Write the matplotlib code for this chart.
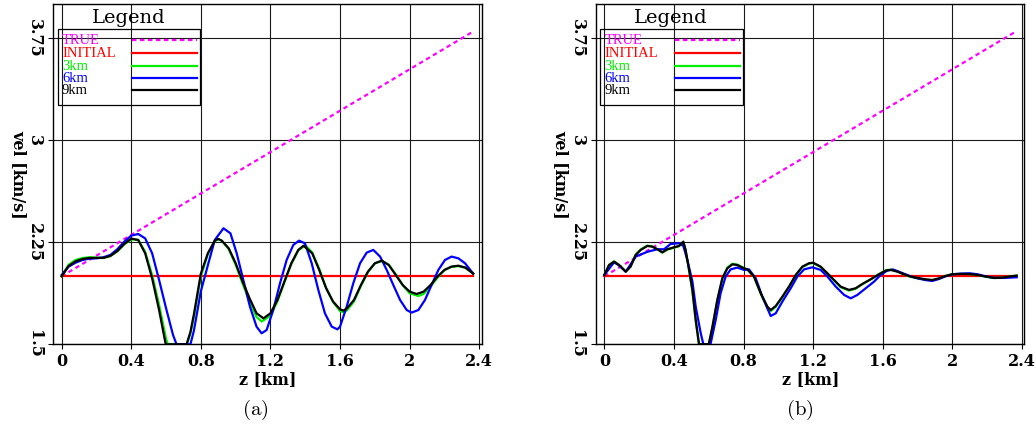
import matplotlib
matplotlib.use("Agg")
import matplotlib.pyplot as plt

plt.rcParams['mathtext.fontset'] = 'cm'

# ---------------- data ----------------
x_ticks = [0, 0.4, 0.8, 1.2, 1.6, 2.0, 2.4]
x_ticklabels = ["0", "0.4", "0.8", "1.2", "1.6", "2", "2.4"]
y_ticks = [1.5, 2.25, 3.0, 3.75]
y_ticklabels = ["1.5", "2.25", "3", "3.75"]

legend_names = ["TRUE", "INITIAL", "3km", "6km", "9km"]
legend_colors = ["#ff00ff", "#ff0000", "#00ee00", "#0000ff", "#000000"]

true_z = [0.0, 2.365]
true_v = [2.0, 3.80]
init_z = [0.0, 2.365]
init_v = [2.0, 2.0]

# panel (a)
a9_z = [0, 0.04, 0.08, 0.12, 0.16, 0.20, 0.24, 0.28, 0.32, 0.36, 0.40, 0.44, 0.48, 0.52, 0.56, 0.598,
        0.64, 0.68, 0.718, 0.74, 0.76, 0.78, 0.80, 0.84, 0.88, 0.90, 0.92, 0.96, 1.00, 1.04, 1.08, 1.12,
        1.16, 1.20, 1.24, 1.28, 1.32, 1.36, 1.39, 1.44, 1.48, 1.52, 1.56, 1.60, 1.62, 1.64, 1.68, 1.72,
        1.76, 1.80, 1.84, 1.88, 1.92, 1.96, 2.00, 2.04, 2.08, 2.12, 2.16, 2.20, 2.24, 2.28, 2.32, 2.365]
a9_v = [2.0, 2.076, 2.110, 2.127, 2.135, 2.135, 2.135, 2.150, 2.186, 2.238, 2.277, 2.267, 2.169, 1.985,
        1.752, 1.5, 1.5, 1.5, 1.5, 1.59, 1.72, 1.87, 2.02, 2.169, 2.262, 2.275, 2.262, 2.206, 2.096,
        1.961, 1.838, 1.728, 1.691, 1.728, 1.826, 1.961, 2.096, 2.194, 2.225, 2.169, 2.047, 1.912,
        1.814, 1.757, 1.748, 1.765, 1.826, 1.936, 2.034, 2.096, 2.115, 2.083, 2.01, 1.936, 1.887,
        1.87, 1.887, 1.936, 1.998, 2.047, 2.071, 2.078, 2.064, 2.02]

a3_z = [0, 0.04, 0.08, 0.12, 0.16, 0.20, 0.24, 0.28, 0.32, 0.36, 0.40, 0.44, 0.48, 0.52, 0.56, 0.60,
        0.61, 0.64, 0.68, 0.72, 0.74, 0.76, 0.78, 0.80, 0.84, 0.88, 0.90, 0.92, 0.96, 1.00, 1.04, 1.08,
        1.12, 1.15, 1.20, 1.24, 1.28, 1.32, 1.36, 1.40, 1.44, 1.48, 1.52, 1.56, 1.60, 1.62, 1.64, 1.68,
        1.72, 1.76, 1.80, 1.84, 1.88, 1.92, 1.96, 2.00, 2.05, 2.08, 2.12, 2.16, 2.20, 2.24, 2.28, 2.32,
        2.365]
a3_v = [2.0, 2.085, 2.12, 2.135, 2.14, 2.138, 2.135, 2.148, 2.183, 2.235, 2.272, 2.268, 2.18, 2.01,
        1.79, 1.54, 1.5, 1.5, 1.5, 1.5, 1.58, 1.70, 1.85, 2.0, 2.16, 2.258, 2.272, 2.262, 2.20, 2.085,
        1.945, 1.815, 1.70, 1.668, 1.71, 1.815, 1.955, 2.09, 2.19, 2.228, 2.175, 2.055, 1.915, 1.81,
        1.745, 1.735, 1.75, 1.815, 1.93, 2.03, 2.095, 2.112, 2.085, 2.015, 1.935, 1.875, 1.855, 1.87,
        1.925, 1.99, 2.045, 2.07, 2.075, 2.063, 2.02]

a6_z = [0, 0.04, 0.08, 0.12, 0.16, 0.20, 0.24, 0.28, 0.32, 0.36, 0.40, 0.44, 0.48, 0.52, 0.56, 0.60,
        0.64, 0.66, 0.74, 0.76, 0.80, 0.84, 0.88, 0.93, 0.97, 1.006, 1.044, 1.082, 1.12, 1.149, 1.178,
        1.216, 1.255, 1.293, 1.331, 1.364, 1.398, 1.437, 1.475, 1.513, 1.552, 1.585, 1.60, 1.638, 1.676,
        1.715, 1.753, 1.791, 1.83, 1.868, 1.906, 1.945, 1.983, 2.011, 2.05, 2.088, 2.126, 2.165, 2.203,
        2.241, 2.28, 2.318, 2.365]
a6_v = [2.01, 2.071, 2.10, 2.12, 2.13, 2.132, 2.14, 2.157, 2.199, 2.255, 2.299, 2.311, 2.279, 2.169,
        1.973, 1.765, 1.569, 1.5, 1.5, 1.60, 1.89, 2.08, 2.267, 2.353, 2.316, 2.169, 1.973, 1.777,
        1.63, 1.581, 1.605, 1.752, 1.949, 2.12, 2.23, 2.262, 2.243, 2.096, 1.9, 1.728, 1.63, 1.61,
        1.63, 1.777, 1.949, 2.096, 2.174, 2.194, 2.145, 2.047, 1.936, 1.826, 1.752, 1.733, 1.752,
        1.826, 1.936, 2.047, 2.12, 2.145, 2.132, 2.096, 2.02]

# panel (b)
b9_z = [0, 0.027, 0.056, 0.084, 0.123, 0.151, 0.18, 0.209, 0.247, 0.276, 0.305, 0.333, 0.362, 0.40,
        0.429, 0.454, 0.467, 0.487, 0.506, 0.525, 0.544, 0.60, 0.621, 0.649, 0.678, 0.707, 0.736, 0.764,
        0.803, 0.822, 0.86, 0.899, 0.937, 0.956, 0.985, 1.023, 1.061, 1.10, 1.138, 1.176, 1.20, 1.243,
        1.282, 1.32, 1.358, 1.406, 1.444, 1.483, 1.531, 1.578, 1.617, 1.646, 1.684, 1.722, 1.76, 1.799,
        1.846, 1.885, 1.923, 1.96, 1.999, 2.048, 2.096, 2.144, 2.192, 2.24, 2.288, 2.326, 2.37]
b9_v = [2.01, 2.083, 2.108, 2.083, 2.034, 2.071, 2.157, 2.194, 2.223, 2.218, 2.199, 2.176, 2.199, 2.213,
        2.223, 2.255, 2.194, 2.047, 1.9, 1.68, 1.5, 1.5, 1.63, 1.826, 1.985, 2.059, 2.088, 2.083,
        2.059, 2.051, 1.998, 1.875, 1.777, 1.752, 1.782, 1.85, 1.924, 2.01, 2.071, 2.096, 2.10, 2.071,
        2.022, 1.973, 1.924, 1.90, 1.912, 1.944, 1.978, 2.015, 2.042, 2.047, 2.034, 2.015, 1.998, 1.988,
        1.978, 1.973, 1.985, 2.002, 2.015, 2.017, 2.017, 2.01, 1.998, 1.988, 1.99, 1.998, 2.005]

b3_z = list(b9_z)
b3_v = [2.01, 2.083, 2.11, 2.085, 2.036, 2.075, 2.16, 2.198, 2.226, 2.22, 2.198, 2.174, 2.196, 2.21,
        2.222, 2.25, 2.19, 2.04, 1.89, 1.67, 1.5, 1.5, 1.62, 1.82, 1.985, 2.065, 2.092, 2.086,
        2.06, 2.05, 1.995, 1.87, 1.768, 1.744, 1.776, 1.846, 1.922, 2.008, 2.068, 2.093, 2.098, 2.068,
        2.02, 1.97, 1.92, 1.895, 1.908, 1.942, 1.978, 2.016, 2.044, 2.05, 2.036, 2.014, 1.996, 1.985,
        1.975, 1.97, 1.983, 2.002, 2.016, 2.018, 2.017, 2.01, 1.997, 1.987, 1.99, 1.998, 2.005]

b6_z = [0, 0.056, 0.084, 0.123, 0.18, 0.247, 0.305, 0.343, 0.381, 0.429, 0.454, 0.477, 0.506, 0.525,
        0.554, 0.569, 0.61, 0.64, 0.668, 0.697, 0.726, 0.764, 0.803, 0.831, 0.87, 0.908, 0.956, 0.985,
        1.023, 1.071, 1.109, 1.148, 1.195, 1.243, 1.282, 1.33, 1.378, 1.416, 1.454, 1.502, 1.55, 1.588,
        1.626, 1.66, 1.70, 1.76, 1.80, 1.846, 1.885, 1.923, 1.96, 2.00, 2.05, 2.10, 2.144, 2.19, 2.24,
        2.29, 2.33, 2.37]
b6_v = [2.01, 2.103, 2.08, 2.034, 2.145, 2.18, 2.199, 2.199, 2.238, 2.243, 2.223, 2.12, 1.961, 1.777,
        1.581, 1.5, 1.5, 1.68, 1.875, 1.998, 2.051, 2.064, 2.047, 2.051, 1.985, 1.85, 1.708, 1.728,
        1.814, 1.912, 1.998, 2.051, 2.066, 2.047, 1.998, 1.924, 1.863, 1.838, 1.863, 1.912, 1.961,
        2.01, 2.042, 2.05, 2.03, 2.0, 1.985, 1.972, 1.966, 1.98, 2.0, 2.015, 2.02, 2.022, 2.015, 2.0,
        1.988, 1.988, 1.99, 1.993]

panels = [
    dict(left=53.3, caption="(a)", cap_x=255,
         series=[(a3_z, a3_v), (a6_z, a6_v), (a9_z, a9_v)]),
    dict(left=596.0, caption="(b)", cap_x=800,
         series=[(b3_z, b3_v), (b6_z, b6_v), (b9_z, b9_v)]),
]

# ---------------- figure ----------------
W, H = 1036, 432
fig = plt.figure(figsize=(W / 100, H / 100), dpi=100)

ax_w, ax_top, ax_bot = 428.4, 4.3, 344.3
ax_h = ax_bot - ax_top

tick_font = dict(family="DejaVu Serif", weight="bold", size=11.5)

for p in panels:
    ax = fig.add_axes([p["left"] / W, 1 - ax_bot / H, ax_w / W, ax_h / H])
    ax.set_xlim(-0.048, 2.414)
    ax.set_ylim(1.5, 4.0)

    ax.plot(true_z, true_v, color=legend_colors[0], lw=1.6, linestyle=(0, (2.0, 1.6)), zorder=3)
    ax.plot(init_z, init_v, color=legend_colors[1], lw=1.6, zorder=3)
    for (zz, vv), col in zip(p["series"], legend_colors[2:]):
        ax.plot(zz, vv, color=col, lw=1.6, zorder=4, solid_joinstyle="round")

    ax.set_xticks(x_ticks)
    ax.set_xticklabels(x_ticklabels, fontdict=tick_font)
    ax.set_yticks(y_ticks)
    ax.set_yticklabels(y_ticklabels, fontdict=tick_font, rotation=-90, va="center")
    ax.tick_params(axis="both", direction="out", length=3.6, width=0.8, color="black")
    ax.tick_params(axis="x", pad=3.0)
    ax.tick_params(axis="y", pad=4.0)
    ax.grid(True, color="#1a1a1a", lw=0.8)
    ax.set_axisbelow(True)
    for s in ax.spines.values():
        s.set_linewidth(1.0)
        s.set_color("black")

    ax.text(0.5, -(380 - ax_bot) / ax_h, "z [km]", transform=ax.transAxes,
            ha="center", va="center", **tick_font)
    ax.text(-36 / ax_w, 0.5, "vel [km/s]", transform=ax.transAxes, rotation=-90,
            ha="center", va="center", **tick_font)

    # legend drawn by hand (transparent box, grid shows through)
    def fx(dx):
        return dx / ax_w

    def fy(dy):
        return 1 - (dy - ax_top) / ax_h

    box = plt.Rectangle((fx(4.4), fy(105.3)), fx(147.0) - fx(4.4), fy(29.3) - fy(105.3),
                        transform=ax.transAxes, fill=False, ec="black", lw=0.9, zorder=6)
    ax.add_patch(box)
    ax.text(fx(75), fy(18.5), "Legend", transform=ax.transAxes, ha="center", va="center",
            family="DejaVu Serif", size=14, zorder=6)
    for i, (name, col) in enumerate(zip(legend_names, legend_colors)):
        yy = 40.5 + 12.5 * i
        ax.text(fx(8.7), fy(yy + 0.5), name, transform=ax.transAxes, ha="left", va="center",
                family="Liberation Serif", size=10.5, color=col, zorder=6)
        ls = (0, (2.0, 1.6)) if i == 0 else "-"
        ax.plot([fx(78.7), fx(143.7)], [fy(yy), fy(yy)], transform=ax.transAxes,
                color=col, lw=1.6, linestyle=ls, zorder=6, clip_on=False)

    fig.text(p["cap_x"] / W, 1 - 410 / H, r"$\mathrm{" + p["caption"] + "}$",
             ha="center", va="center", size=15)

fig.savefig("out.png", dpi=100)
